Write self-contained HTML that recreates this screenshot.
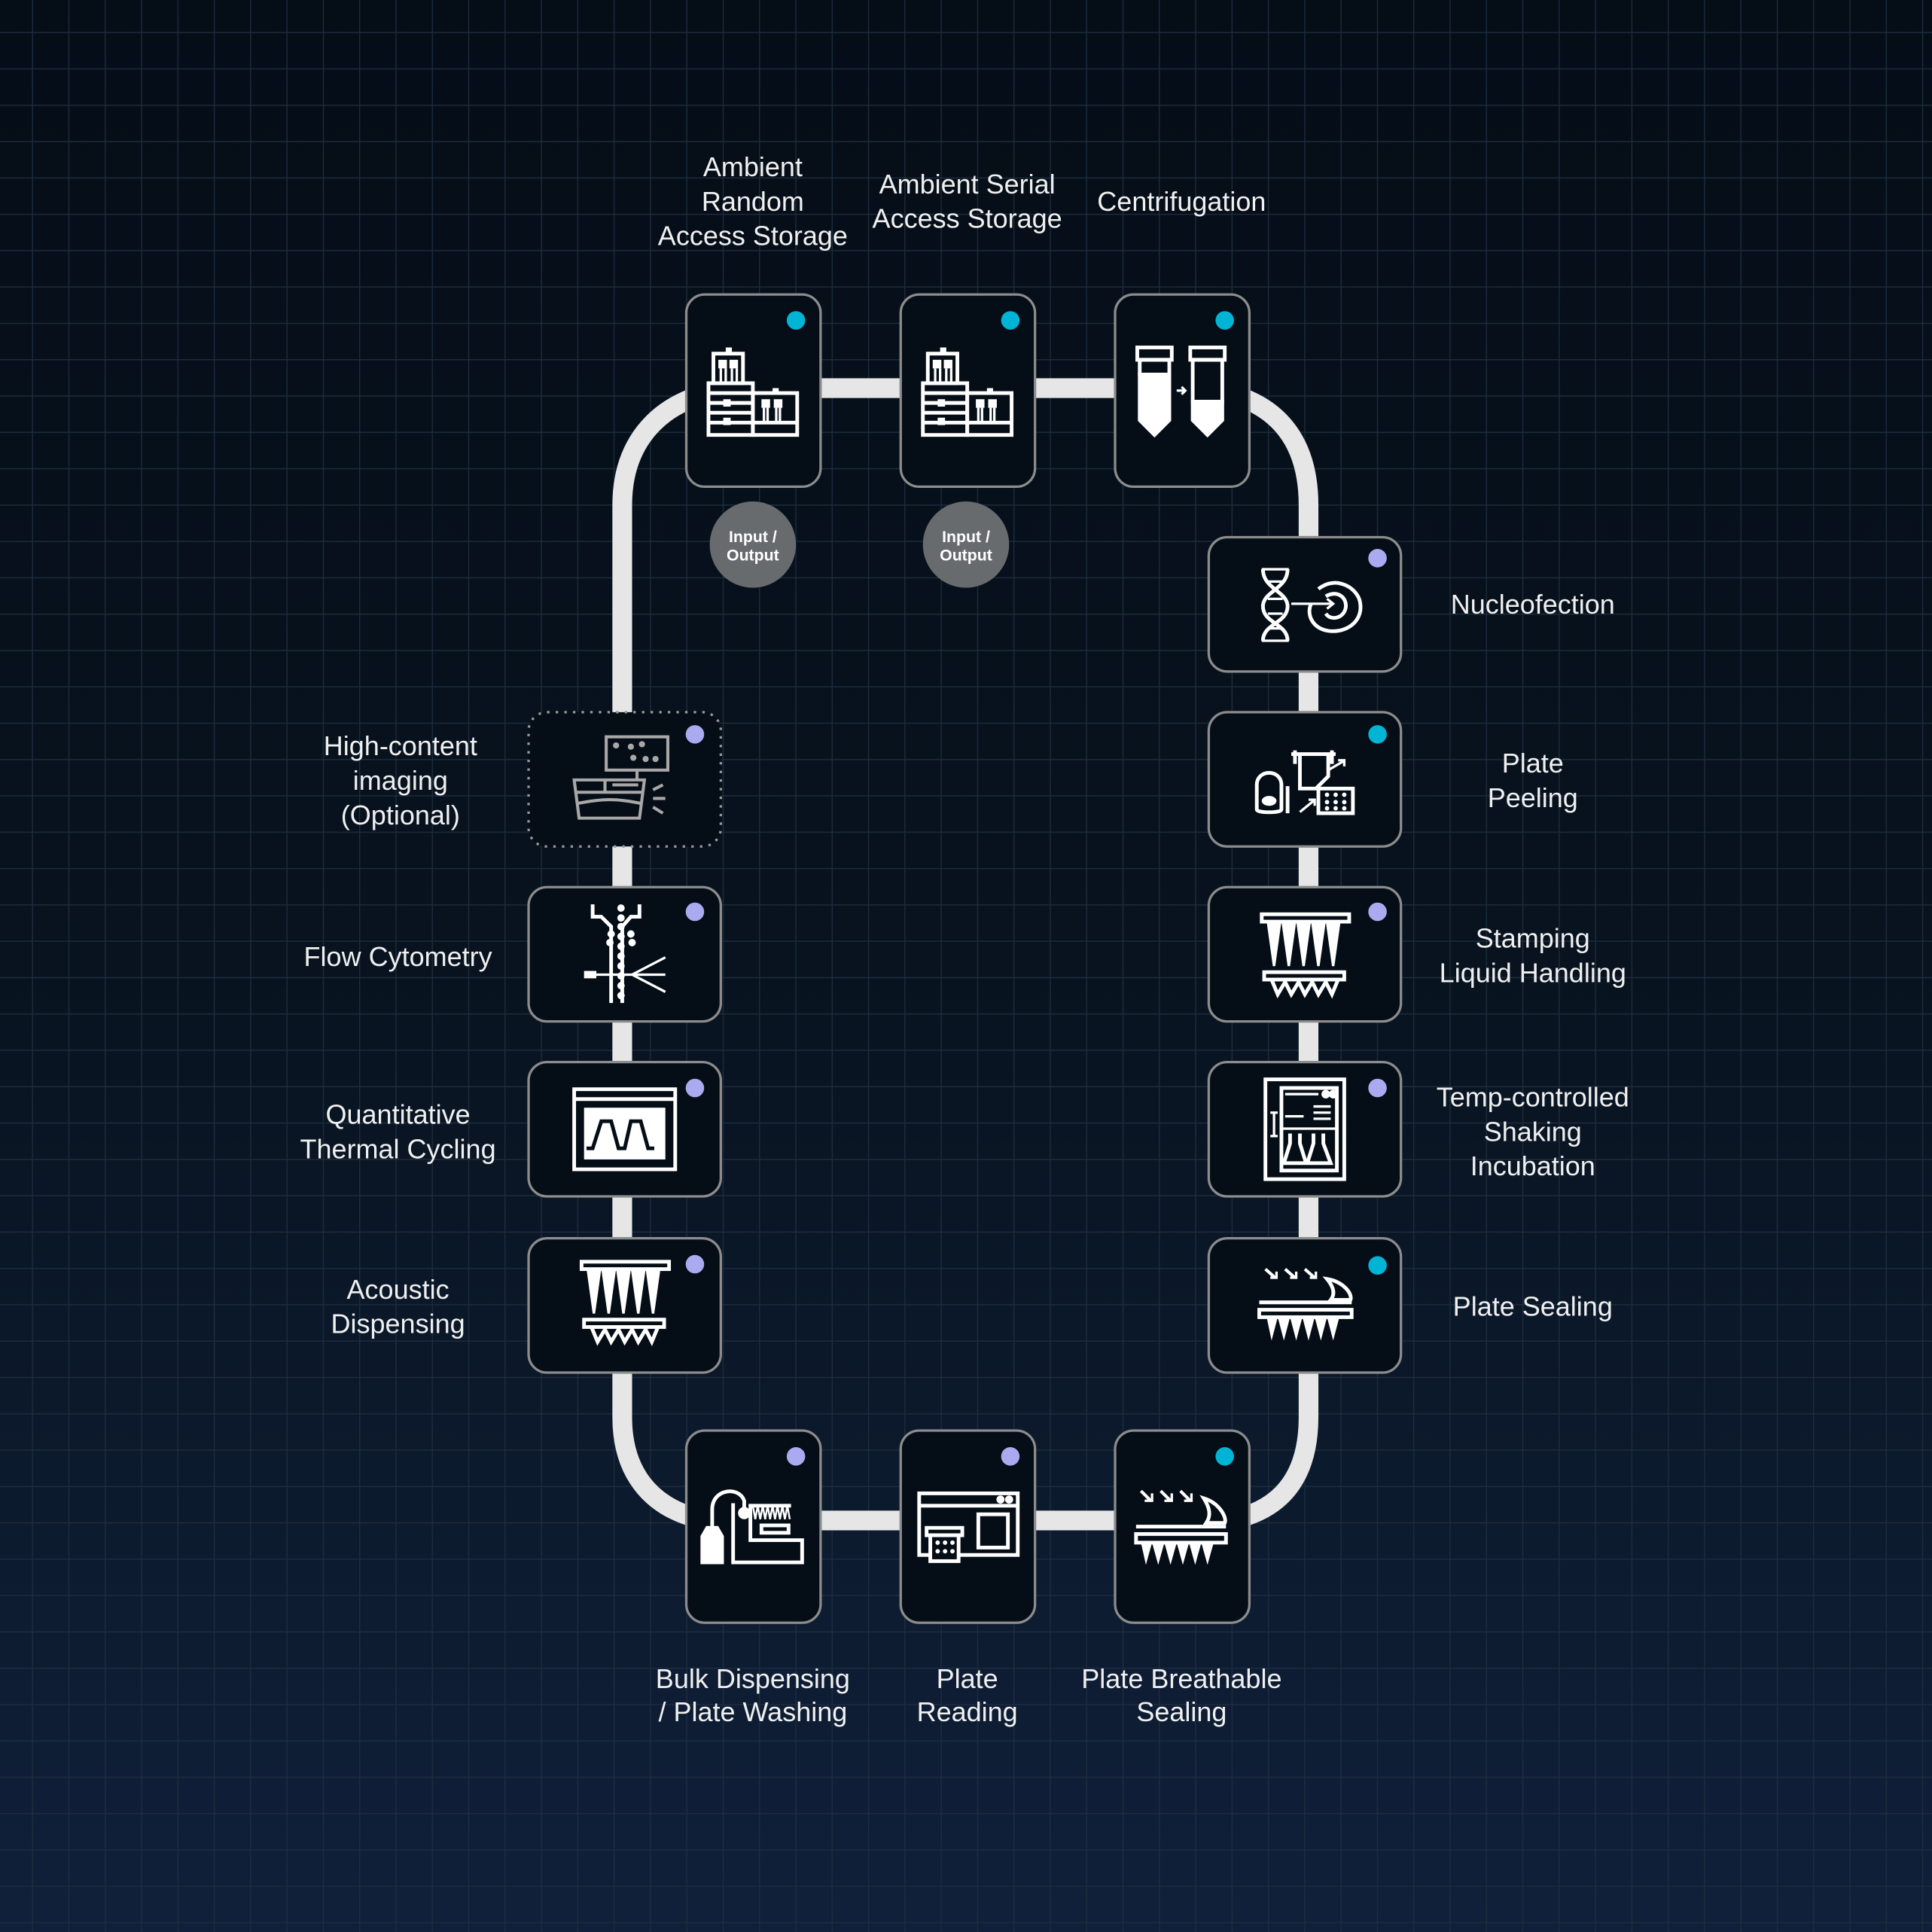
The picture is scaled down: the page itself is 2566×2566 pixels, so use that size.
<!DOCTYPE html>
<html><head><meta charset="utf-8"><style>
html,body{margin:0;padding:0;background:#07111c;}
svg{display:block}
text{font-family:"Liberation Sans",Arial,sans-serif;fill:#f0f0f0;font-size:22px;text-anchor:middle}
.io{font-size:13px;font-weight:bold;fill:#fff}
</style></head><body>
<svg width="2566" height="2566" viewBox="0 0 1568 1568" xmlns="http://www.w3.org/2000/svg">
<defs>
<linearGradient id="bg" x1="0" y1="0" x2="0" y2="1">
<stop offset="0" stop-color="#050d17"/><stop offset="0.5" stop-color="#08131f"/><stop offset="1" stop-color="#10203a" stop-opacity="1"/>
</linearGradient>
<pattern id="grid" x="26" y="26" width="29.5" height="29.5" patternUnits="userSpaceOnUse">
<path d="M0 0 H29.5 M0 0 V29.5" stroke="#1e2d3e" stroke-width="1.6" fill="none"/>
</pattern>
<g id="storage" fill="none" stroke="#fff" stroke-width="3">
<rect x="22" y="48" width="24" height="24"/>
<rect x="32" y="43" width="5" height="5" fill="#fff" stroke="none"/>
<rect x="26" y="53" width="7" height="7" fill="#fff" stroke="none"/>
<rect x="35" y="53" width="7" height="7" fill="#fff" stroke="none"/>
<path d="M28 60 V72 M32 60 V72 M37 60 V72 M41 60 V72" stroke-width="2"/>
<rect x="18" y="72" width="36" height="42"/>
<path d="M18 80 H54 M18 88 H54 M18 96 H54 M18 104 H54"/>
<rect x="30" y="85" width="6" height="6" fill="#fff" stroke="none"/>
<rect x="30" y="100" width="6" height="6" fill="#fff" stroke="none"/>
<rect x="54" y="80" width="36" height="34"/>
<rect x="70" y="76" width="5" height="5" fill="#fff" stroke="none"/>
<rect x="61" y="85" width="7" height="7" fill="#fff" stroke="none"/>
<rect x="71" y="85" width="7" height="7" fill="#fff" stroke="none"/>
<path d="M63 92 V104 M66 92 V104 M73 92 V104 M76 92 V104" stroke-width="2"/>
<path d="M54 104 H90"/>
</g>
<g id="teeth" fill="#fff">
<path d="M0 0 l4 22 l4 -22 z M9 0 l4 22 l4 -22 z M18 0 l4 22 l4 -22 z M27 0 l4 22 l4 -22 z M36 0 l4 22 l4 -22 z M45 0 l4 22 l4 -22 z"/>
</g>
<g id="stamp" fill="none" stroke="#fff" stroke-width="3">
<rect x="-35" y="-35" width="71" height="6"/>
<path d="M-30 -29 L-25 7 L-20 -29 M-18 -29 L-13 7 L-8 -29 M-6 -29 L-1 7 L4 -29 M6 -29 L11 7 L16 -29 M18 -29 L23 7 L28 -29" fill="#fff" stroke-width="2"/>
<rect x="-33" y="12" width="65" height="6"/>
<path d="M-27 18 L-22 30 L-16 20 L-11 30 L-5 20 L0 30 L6 20 L11 30 L17 20 L22 30 L27 18"/>
</g>
</defs>
<rect width="1568" height="1568" fill="url(#bg)"/>
<rect width="1568" height="1568" fill="url(#grid)"/>

<!-- track -->
<g fill="none" stroke="#e6e6e6" stroke-width="16">
<path d="M565 322 C528 335 505 365 505 410 L505 1150 C505 1195 528 1222 565 1232"/>
<path d="M1006 322 C1043 335 1062 365 1062 410 L1062 1150 C1062 1195 1043 1222 1006 1232"/>
<path d="M660 315 H740 M834 315 H912"/>
<path d="M660 1234 H740 M834 1234 H912"/>
</g>

<!-- boxes -->
<g fill="#050d16" stroke="#8c8c8c" stroke-width="2">
<rect x="557" y="239" width="109" height="156" rx="15"/>
<rect x="731" y="239" width="109" height="156" rx="15"/>
<rect x="905" y="239" width="109" height="156" rx="15"/>
<rect x="981" y="436" width="156" height="109" rx="15"/>
<rect x="981" y="578" width="156" height="109" rx="15"/>
<rect x="981" y="720" width="156" height="109" rx="15"/>
<rect x="981" y="862" width="156" height="109" rx="15"/>
<rect x="981" y="1005" width="156" height="109" rx="15"/>
<rect x="429" y="578" width="156" height="109" rx="15" stroke-dasharray="2 5" stroke="#999"/>
<rect x="429" y="720" width="156" height="109" rx="15"/>
<rect x="429" y="862" width="156" height="109" rx="15"/>
<rect x="429" y="1005" width="156" height="109" rx="15"/>
<rect x="557" y="1161" width="109" height="156" rx="15"/>
<rect x="731" y="1161" width="109" height="156" rx="15"/>
<rect x="905" y="1161" width="109" height="156" rx="15"/>
</g>

<!-- dots -->
<g>
<circle cx="646" cy="260" r="7.5" fill="#00b4d6"/>
<circle cx="820" cy="260" r="7.5" fill="#00b4d6"/>
<circle cx="994" cy="260" r="7.5" fill="#00b4d6"/>
<circle cx="1118" cy="453" r="7.5" fill="#aaaaf0"/>
<circle cx="1118" cy="596" r="7.5" fill="#00b4d6"/>
<circle cx="1118" cy="740" r="7.5" fill="#aaaaf0"/>
<circle cx="1118" cy="883" r="7.5" fill="#aaaaf0"/>
<circle cx="1118" cy="1027" r="7.5" fill="#00b4d6"/>
<circle cx="564" cy="596" r="7.5" fill="#aaaaf0"/>
<circle cx="564" cy="740" r="7.5" fill="#aaaaf0"/>
<circle cx="564" cy="883" r="7.5" fill="#aaaaf0"/>
<circle cx="564" cy="1026" r="7.5" fill="#aaaaf0"/>
<circle cx="646" cy="1182" r="7.5" fill="#aaaaf0"/>
<circle cx="820" cy="1182" r="7.5" fill="#aaaaf0"/>
<circle cx="994" cy="1182" r="7.5" fill="#00b4d6"/>
</g>

<!-- I/O -->
<circle cx="611" cy="442" r="35" fill="#686b6e"/>
<circle cx="784" cy="442" r="35" fill="#686b6e"/>
<text class="io" x="611" y="440">Input /</text><text class="io" x="611" y="455">Output</text>
<text class="io" x="784" y="440">Input /</text><text class="io" x="784" y="455">Output</text>

<!-- icons top -->
<use href="#storage" transform="translate(557,239)"/>
<use href="#storage" transform="translate(731,239)"/>
<g transform="translate(905,239)" fill="none" stroke="#fff" stroke-width="3">
<rect x="18" y="43" width="28" height="10"/>
<rect x="20" y="53" width="24" height="12"/>
<path d="M20 65 H44 V102 L32 114 L20 102 Z" fill="#fff"/>
<rect x="61" y="43" width="28" height="10"/>
<rect x="63" y="53" width="24" height="34"/>
<path d="M63 87 H87 V102 L75 114 L63 102 Z" fill="#fff"/>
<path d="M50 78 H57 M54 75 L57 78 L54 81" stroke-width="2"/>
</g>

<!-- Nucleofection -->
<g fill="none" stroke="#fff" stroke-width="3">
<path d="M1025 462 C1025 478 1045 480 1045 492 C1045 506 1025 506 1025 520"/>
<path d="M1045 462 C1045 478 1025 480 1025 492 C1025 506 1045 506 1045 520"/>
<path d="M1024 462 H1046 M1024 520 H1046 M1029 472 H1041 M1029 486 H1041 M1029 498 H1041 M1029 510 H1041" stroke-width="2"/>
<path d="M1048 490 H1082 M1077 486 L1082 490 L1077 494" stroke-width="2"/>
<path d="M1070 478 C1085 466 1103 478 1104 490 C1106 505 1092 514 1078 512 C1066 510 1060 500 1064 490"/>
<path d="M1076 484 C1086 478 1094 486 1092 494 C1090 502 1080 504 1076 498"/>
</g>

<!-- Plate peeling -->
<g fill="none" stroke="#fff" stroke-width="3">
<path d="M1020 650 V637 C1020 624 1040 624 1040 637 V657 C1040 660 1020 660 1020 657 Z"/>
<ellipse cx="1030" cy="650" rx="6" ry="4" fill="#fff" stroke="none"/>
<path d="M1045 638 V660 M1051 609 V620 M1081 609 V620 M1048 612 H1084"/>
<path d="M1055 612 V640 H1068 L1078 630 V612"/>
<path d="M1055 659 L1066 650 M1062 649 H1067 V654 M1078 625 L1090 618 M1086 617 H1091 V622" stroke-width="2"/>
<rect x="1070" y="640" width="28" height="20"/>
<g fill="#fff" stroke="none"><circle cx="1077" cy="645" r="1.8"/><circle cx="1084" cy="645" r="1.8"/><circle cx="1091" cy="645" r="1.8"/><circle cx="1077" cy="651" r="1.8"/><circle cx="1084" cy="651" r="1.8"/><circle cx="1091" cy="651" r="1.8"/><circle cx="1077" cy="656" r="1.8"/><circle cx="1084" cy="656" r="1.8"/><circle cx="1091" cy="656" r="1.8"/></g>
</g>

<!-- Stamping -->
<use href="#stamp" transform="translate(1059,777)"/>

<!-- Temp incubation -->
<g fill="none" stroke="#fff" stroke-width="3">
<rect x="1027" y="876" width="64" height="81"/>
<rect x="1040" y="883" width="45" height="67"/>
<path d="M1043 888 H1070" stroke-width="2"/>
<circle cx="1076" cy="888" r="2" fill="#fff"/><circle cx="1082" cy="888" r="2" fill="#fff"/>
<path d="M1043 906 H1058 M1066 898 H1080 M1066 903 H1080 M1066 908 H1080 M1040 916 H1085" stroke-width="2"/>
<path d="M1034 903 V922 M1031 903 H1037 M1031 922 H1037" stroke-width="2"/>
<path d="M1047 920 V928 L1042 944 H1060 L1055 928 V920 M1066 920 V928 L1061 944 H1080 L1074 928 V920"/>
</g>

<!-- Plate sealing -->
<g fill="none" stroke="#fff" stroke-width="3">
<path d="M1027 1030 L1035 1037 M1043 1030 L1051 1037 M1059 1030 L1067 1037" stroke-width="2.5"/>
<path d="M1031 1037 H1036 V1032 M1047 1037 H1052 V1032 M1063 1037 H1068 V1032" stroke-width="2"/>
<path d="M1077 1038 C1090 1040 1098 1050 1096 1055 H1080 C1084 1050 1082 1044 1077 1038 Z"/>
<path d="M1022 1057 H1097"/>
<rect x="1022" y="1063" width="75" height="6"/>
<path d="M1028 1069 L1032 1088 L1037 1069 L1042 1088 L1047 1069 L1052 1088 L1057 1069 L1062 1088 L1067 1069 L1072 1088 L1077 1069 L1082 1088 L1087 1069 Z" fill="#fff" stroke="none"/>
</g>

<!-- High-content imaging (gray) -->
<g fill="none" stroke="#a8a8a8" stroke-width="2.5">
<rect x="492" y="598" width="50" height="27"/>
<g fill="#a8a8a8" stroke="none"><circle cx="500" cy="605" r="2.5"/><circle cx="512" cy="606" r="2.5"/><circle cx="521" cy="604" r="2.5"/><circle cx="514" cy="615" r="2.5"/><circle cx="524" cy="616" r="2.5"/><circle cx="532" cy="616" r="2.5"/></g>
<path d="M517 625 V633"/>
<path d="M466 633 H523 L519 664 H470 Z"/>
<path d="M467 643 H521 M469 652 C490 648 500 648 520 652 M491 633 V643 M497 637 H518"/>
<path d="M530 641 L538 637 M530 648 H540 M530 655 L538 660"/>
</g>

<!-- Flow cytometry -->
<g fill="none" stroke="#fff" stroke-width="3">
<path d="M481 734 V744 H488 L496 752 V814 M519 734 V744 H512 L505 752 V814"/>
<g fill="#fff" stroke="none">
<circle cx="504" cy="737" r="3"/><circle cx="504" cy="745" r="3"/><circle cx="504" cy="752" r="3"/><circle cx="504" cy="760" r="3"/><circle cx="504" cy="768" r="3"/><circle cx="504" cy="776" r="3"/><circle cx="504" cy="784" r="3"/><circle cx="504" cy="792" r="3"/><circle cx="504" cy="800" r="3"/><circle cx="504" cy="808" r="3"/>
<circle cx="496" cy="758" r="3"/><circle cx="512" cy="758" r="3"/><circle cx="495" cy="765" r="3"/><circle cx="513" cy="765" r="3"/>
<rect x="474" y="788" width="10" height="6"/>
</g>
<path d="M484 791 H513 M513 791 L540 777 M513 791 H540 M513 791 L540 805" stroke-width="2"/>
</g>

<!-- qPCR -->
<g fill="none" stroke="#fff" stroke-width="3">
<rect x="466" y="884" width="82" height="65"/>
<path d="M466 892 H548"/>
<rect x="474" y="899" width="66" height="42" fill="#fff" stroke="none"/>
<path d="M476 932 H481 L488 910 H496 L502 932 H507 L512 910 H520 L526 932 H531" stroke="#050d16" stroke-width="3"/>
</g>

<!-- Acoustic -->
<use href="#stamp" transform="translate(507,1059)"/>

<!-- Bulk dispensing -->
<g fill="none" stroke="#fff" stroke-width="3">
<path d="M570 1247 L574 1240 H582 L586 1247 V1268 H570 Z" fill="#fff"/>
<path d="M578 1240 V1225 C578 1208 600 1206 604 1218 V1226"/>
<circle cx="604" cy="1228" r="3.5" fill="#fff"/>
<path d="M595 1220 V1268 H651 V1250 H609 V1222 H642"/>
<path d="M611 1222 L613 1233 L615 1222 L617 1233 L619 1222 L621 1233 L623 1222 L625 1233 L627 1222 L629 1233 L631 1222 L633 1233 L635 1222 L637 1233 L639 1222 L641 1233" stroke-width="1.5"/>
<rect x="618" y="1238" width="22" height="6"/>
</g>

<!-- Plate reading -->
<g fill="none" stroke="#fff" stroke-width="3">
<rect x="746" y="1212" width="80" height="50"/>
<path d="M746 1222 H826"/>
<circle cx="812" cy="1217" r="1.8" fill="#fff"/><circle cx="819" cy="1217" r="1.8" fill="#fff"/>
<rect x="794" y="1229" width="24" height="27"/>
<rect x="752" y="1240" width="29" height="6" fill="#050d16"/>
<rect x="755" y="1246" width="23" height="21" fill="#050d16"/>
<g fill="#fff" stroke="none"><circle cx="761" cy="1252" r="1.8"/><circle cx="767" cy="1252" r="1.8"/><circle cx="773" cy="1252" r="1.8"/><circle cx="761" cy="1259" r="1.8"/><circle cx="767" cy="1259" r="1.8"/><circle cx="773" cy="1259" r="1.8"/></g>
</g>

<!-- Breathable sealing -->
<g fill="none" stroke="#fff" stroke-width="3">
<path d="M926 1210 L934 1218 M942 1210 L950 1218 M958 1210 L966 1218" stroke-width="2.5"/>
<path d="M929 1218 H935 V1212 M945 1218 H951 V1212 M961 1218 H967 V1212" stroke-width="2"/>
<path d="M977 1216 C990 1220 996 1232 994 1236 H979 C983 1230 982 1224 977 1216 Z"/>
<path d="M922 1239 H995"/>
<rect x="922" y="1245" width="73" height="7"/>
<path d="M926 1252 L930 1270 L935 1252 L940 1270 L945 1252 L950 1270 L955 1252 L960 1270 L965 1252 L970 1270 L975 1252 L980 1270 L985 1252 L990 1252 Z" fill="#fff" stroke="none"/>
</g>

<!-- labels -->
<text x="611" y="143">Ambient</text><text x="611" y="171">Random</text><text x="611" y="199">Access Storage</text>
<text x="785" y="157">Ambient Serial</text><text x="785" y="185">Access Storage</text>
<text x="959" y="171">Centrifugation</text>
<text x="1244" y="498">Nucleofection</text>
<text x="1244" y="627">Plate</text><text x="1244" y="655">Peeling</text>
<text x="1244" y="769">Stamping</text><text x="1244" y="797">Liquid Handling</text>
<text x="1244" y="898">Temp-controlled</text><text x="1244" y="926">Shaking</text><text x="1244" y="954">Incubation</text>
<text x="1244" y="1068">Plate Sealing</text>
<text x="325" y="613">High-content</text><text x="325" y="641">imaging</text><text x="325" y="669">(Optional)</text>
<text x="323" y="784">Flow Cytometry</text>
<text x="323" y="912">Quantitative</text><text x="323" y="940">Thermal Cycling</text>
<text x="323" y="1054">Acoustic</text><text x="323" y="1082">Dispensing</text>
<text x="611" y="1370">Bulk Dispensing</text><text x="611" y="1397">/ Plate Washing</text>
<text x="785" y="1370">Plate</text><text x="785" y="1397">Reading</text>
<text x="959" y="1370">Plate Breathable</text><text x="959" y="1397">Sealing</text>
</svg>
</body></html>
